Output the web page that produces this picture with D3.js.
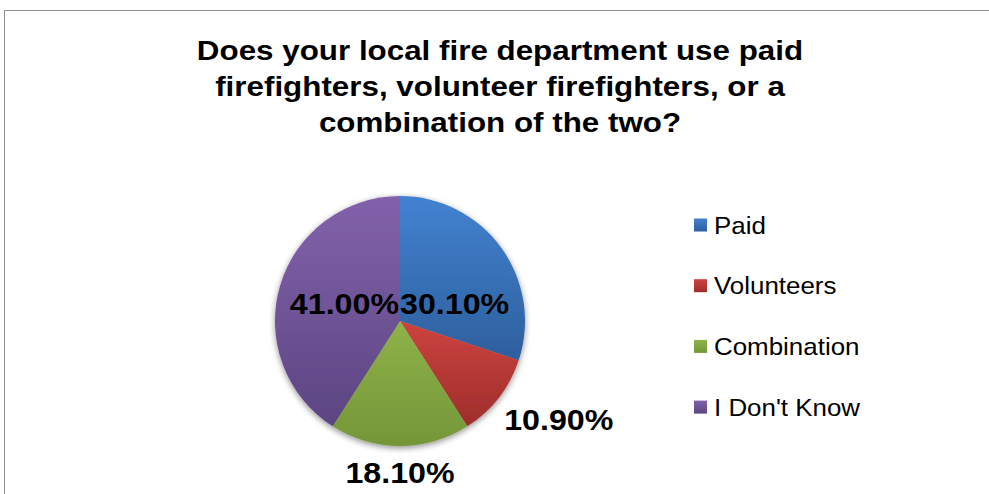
<!DOCTYPE html>
<html>
<head>
<meta charset="utf-8">
<script src="https://cdn.jsdelivr.net/npm/d3@7/dist/d3.min.js"></script>
<style>
  html, body { margin: 0; padding: 0; background: #ffffff; }
  svg { display: block; }
  text { font-family: "Liberation Sans", Arial, sans-serif; }
</style>
</head>
<body>
<svg id="chart" width="989" height="494"></svg>
<script>
// Survey answers and their shares (percent)
const categories = ["Paid", "Volunteers", "Combination", "I Don't Know"];
const values = [30.1, 10.9, 18.1, 41.0];
const titleLines = [
  "Does your local fire department use paid",
  "firefighters, volunteer firefighters, or a",
  "combination of the two?"
];
// Slice fills: light (top) and dark (bottom) ends of each vertical gradient
const colorsTop = ["#4282d0", "#cc4440", "#8fb24a", "#8262ab"];
const colorsBottom = ["#2d5f9d", "#9e2d2b", "#749638", "#5c4582"];

const W = 989, H = 494;
const cx = 400, cy = 321, R = 125;
const svg = d3.select("#chart");
const defs = svg.append("defs");

categories.forEach((c, i) => {
  const g = defs.append("linearGradient")
    .attr("id", "grad" + i)
    .attr("x1", 0).attr("y1", 0).attr("x2", 0).attr("y2", 1);
  g.append("stop").attr("offset", "0%").attr("stop-color", colorsTop[i]);
  g.append("stop").attr("offset", "100%").attr("stop-color", colorsBottom[i]);
});

const shadow = defs.append("filter").attr("id", "pieShadow")
  .attr("x", "-20%").attr("y", "-20%").attr("width", "140%").attr("height", "140%");
shadow.append("feGaussianBlur").attr("in", "SourceAlpha").attr("stdDeviation", 3).attr("result", "blur");
shadow.append("feOffset").attr("in", "blur").attr("dx", 0).attr("dy", 2).attr("result", "off");
shadow.append("feComponentTransfer").attr("in", "off").attr("result", "soft")
  .append("feFuncA").attr("type", "linear").attr("slope", 0.45);
const merge = shadow.append("feMerge");
merge.append("feMergeNode").attr("in", "soft");
merge.append("feMergeNode").attr("in", "SourceGraphic");

// Chart area frame
svg.append("path")
  .attr("d", `M4.5,${H + 2} V10.5 H${W + 2}`)
  .attr("fill", "none")
  .attr("stroke", "#8e8e8e")
  .attr("stroke-width", 1);

// Title
const title = svg.append("text")
  .attr("text-anchor", "middle")
  .attr("font-weight", "bold")
  .attr("font-size", 28)
  .attr("fill", "#000")
  .attr("transform", `translate(500,0) scale(1.12,1)`);
titleLines.forEach((t, i) => {
  title.append("tspan").attr("x", 0).attr("y", 60 + i * 36).text(t);
});

// Pie
const pie = d3.pie().sort(null).value(d => d)(values);
const arc = d3.arc().innerRadius(0).outerRadius(R);

const pieG = svg.append("g")
  .attr("transform", `translate(${cx},${cy})`)
  .attr("filter", "url(#pieShadow)");

pieG.selectAll("path")
  .data(pie)
  .join("path")
  .attr("d", arc)
  .attr("fill", (d, i) => `url(#grad${i})`);

// Data labels
const fmt = v => v.toFixed(2) + "%";
const labelSize = 29;
const gap = 12;
const labelsG = svg.append("g")
  .attr("transform", `translate(${cx},${cy})`);

pie.forEach((d, i) => {
  const share = d.value / d3.sum(values);
  const t = labelsG.append("text")
    .attr("font-weight", "bold")
    .attr("font-size", labelSize)
    .attr("fill", "#000")
    .text(fmt(d.value));
  let x, y, anchor;
  if (share > 0.25) {
    // large slices: label sits just above centre, against the 12 o'clock edge
    y = -7;
    if (d.startAngle === 0) { x = 0; anchor = "start"; }
    else { x = -1; anchor = "end"; }
  } else {
    // small slices: label outside the rim along the slice's mid angle
    const a = (d.startAngle + d.endAngle) / 2;
    const s = Math.sin(a), c = -Math.cos(a);
    x = s * (R + gap) - (s > 0.3 ? 4 : 0);
    const ay = c * (R + gap);
    anchor = s > 0.3 ? "start" : (s < -0.3 ? "end" : "middle");
    y = c > 0 ? ay + labelSize * 0.85 : ay;
  }
  t.attr("text-anchor", anchor)
    .attr("transform", `translate(${x},${y}) scale(1.11,1)`);
});

// Legend
const legendG = svg.append("g").attr("transform", "translate(694,0)");
categories.forEach((c, i) => {
  const yc = 225 + i * 60.7;
  legendG.append("rect")
    .attr("x", 0).attr("y", yc - 6.5)
    .attr("width", 13).attr("height", 13)
    .attr("fill", `url(#grad${i})`);
  legendG.append("text")
    .attr("font-size", 24)
    .attr("fill", "#000")
    .attr("transform", `translate(20,${yc + 8.5}) scale(1.08,1)`)
    .text(c);
});
</script>
</body>
</html>
